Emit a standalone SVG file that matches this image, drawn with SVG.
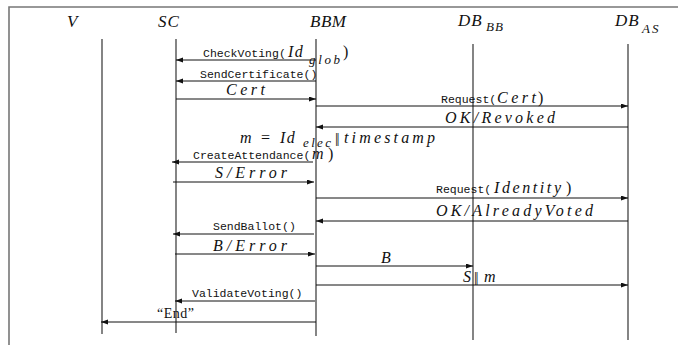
<svg xmlns="http://www.w3.org/2000/svg" width="678" height="345" viewBox="0 0 678 345">
  <style>
    .frame { stroke: #777; stroke-width: 1.6; fill: none; }
    .life { stroke: #333; stroke-width: 1.2; }
    .msg { stroke: #111; stroke-width: 1; fill: none; marker-end: url(#head); }
    text { fill: #111; }
    .hdr { font-family: "Liberation Serif", "DejaVu Serif", serif; font-style: italic; font-size: 17px; }
    .sub { font-family: "Liberation Serif", "DejaVu Serif", serif; font-style: italic; font-size: 13px; }
    .mono { font-family: "Liberation Mono", "DejaVu Sans Mono", monospace; font-size: 11.5px; }
    .math { font-family: "Liberation Serif", "DejaVu Serif", serif; font-style: italic; font-size: 16px; }
    .rm { font-family: "Liberation Serif", "DejaVu Serif", serif; font-size: 16px; }
    .bar { font-family: "Liberation Serif", "DejaVu Serif", serif; font-size: 15px; letter-spacing: -1.5px; }
    .q { font-family: "Liberation Serif", "DejaVu Serif", serif; font-size: 14px; }
  </style>
  <defs>
    <marker id="head" markerUnits="userSpaceOnUse" markerWidth="8" markerHeight="6" refX="7" refY="2.5" orient="auto">
      <path d="M0,0 L7,2.5 L0,5 z" fill="#111"/>
    </marker>
  </defs>

  <rect width="678" height="345" fill="#fff"/>
  <!-- open frame: top and left edges -->
  <path class="frame" d="M9,345 V7 H678"/>

  <!-- participants -->
  <g id="V">
    <text class="hdr" x="67" y="27">V</text>
    <line class="life" x1="102" y1="39" x2="102" y2="334"/>
  </g>
  <g id="SC">
    <text class="hdr" x="158" y="27" letter-spacing="1">SC</text>
    <line class="life" x1="176" y1="39" x2="176" y2="333"/>
  </g>
  <g id="BBM">
    <text class="hdr" x="310" y="27" textLength="36" lengthAdjust="spacing">BBM</text>
    <line class="life" x1="316" y1="39" x2="316" y2="336"/>
  </g>
  <g id="DB_BB">
    <text class="hdr" x="458" y="26" letter-spacing="1">DB</text>
    <text class="sub" x="486" y="31" letter-spacing="1">BB</text>
    <line class="life" x1="473" y1="44" x2="473" y2="340"/>
  </g>
  <g id="DB_AS">
    <text class="hdr" x="615" y="26" letter-spacing="1">DB</text>
    <text class="sub" x="642" y="33" letter-spacing="2">AS</text>
    <line class="life" x1="628" y1="44" x2="628" y2="340"/>
  </g>

  <!-- messages -->
  <g id="connectors">
    <line class="msg" x1="316" y1="60" x2="176" y2="60"/>
    <line class="msg" x1="316" y1="81" x2="176" y2="81"/>
    <line class="msg" x1="176" y1="99" x2="316" y2="99"/>
    <line class="msg" x1="316" y1="106" x2="628" y2="106"/>
    <line class="msg" x1="628" y1="127" x2="316" y2="127"/>
    <line class="msg" x1="313" y1="162" x2="172" y2="162"/>
    <line class="msg" x1="173" y1="182" x2="314" y2="182"/>
    <line class="msg" x1="316" y1="198" x2="628" y2="198"/>
    <line class="msg" x1="628" y1="221" x2="316" y2="221"/>
    <line class="msg" x1="314" y1="234" x2="173" y2="234"/>
    <line class="msg" x1="175" y1="254" x2="315" y2="254"/>
    <line class="msg" x1="316" y1="266" x2="473" y2="266"/>
    <line class="msg" x1="316" y1="285" x2="628" y2="285"/>
    <line class="msg" x1="315" y1="301" x2="175" y2="301"/>
    <line class="msg" x1="316" y1="322" x2="101" y2="322"/>
  </g>

  <!-- message labels -->
  <g id="labels">
    <text class="mono" x="203" y="57">CheckVoting(</text>
    <text class="math" x="288" y="57" letter-spacing="1.5">Id</text>
    <text class="sub" x="309" y="64" textLength="31" lengthAdjust="spacing">glob</text>
    <text class="rm" x="343" y="57">)</text>

    <text class="mono" x="200" y="78">SendCertificate()</text>

    <text class="math" x="226" y="95" textLength="39" lengthAdjust="spacing">Cert</text>

    <text class="mono" x="441" y="103">Request(</text>
    <text class="math" x="497" y="103" textLength="39" lengthAdjust="spacing">Cert</text>
    <text class="rm" x="538" y="103">)</text>

    <text class="math" x="445" y="123" textLength="110" lengthAdjust="spacing">OK/Revoked</text>

    <text class="math" x="240" y="143">m</text>
    <text class="rm" x="261" y="143">=</text>
    <text class="math" x="280" y="143" letter-spacing="1.5">Id</text>
    <text class="sub" x="303" y="147" font-size="12" textLength="28" lengthAdjust="spacing">elec</text>
    <text class="bar" x="335" y="143">||</text>
    <text class="math" x="344" y="143" textLength="91" lengthAdjust="spacing">timestamp</text>

    <text class="mono" x="193" y="159">CreateAttendance(</text>
    <text class="math" x="312" y="159">m</text>
    <text class="rm" x="328" y="159">)</text>

    <text class="math" x="215" y="178" textLength="72" lengthAdjust="spacing">S/Error</text>

    <text class="mono" x="436" y="193">Request(</text>
    <text class="math" x="494" y="193" textLength="67" lengthAdjust="spacing">Identity</text>
    <text class="rm" x="566" y="193">)</text>

    <text class="math" x="436" y="216" textLength="157" lengthAdjust="spacing">OK/AlreadyVoted</text>

    <text class="mono" x="213" y="230">SendBallot()</text>

    <text class="math" x="213" y="251" textLength="74" lengthAdjust="spacing">B/Error</text>

    <text class="math" x="381" y="263">B</text>

    <text class="math" x="463" y="282">S</text>
    <text class="bar" x="474" y="282">||</text>
    <text class="math" x="484" y="282">m</text>

    <text class="mono" x="192" y="297">ValidateVoting()</text>

    <text class="q" x="157" y="318" letter-spacing="0.5">“End”</text>
  </g>
</svg>
